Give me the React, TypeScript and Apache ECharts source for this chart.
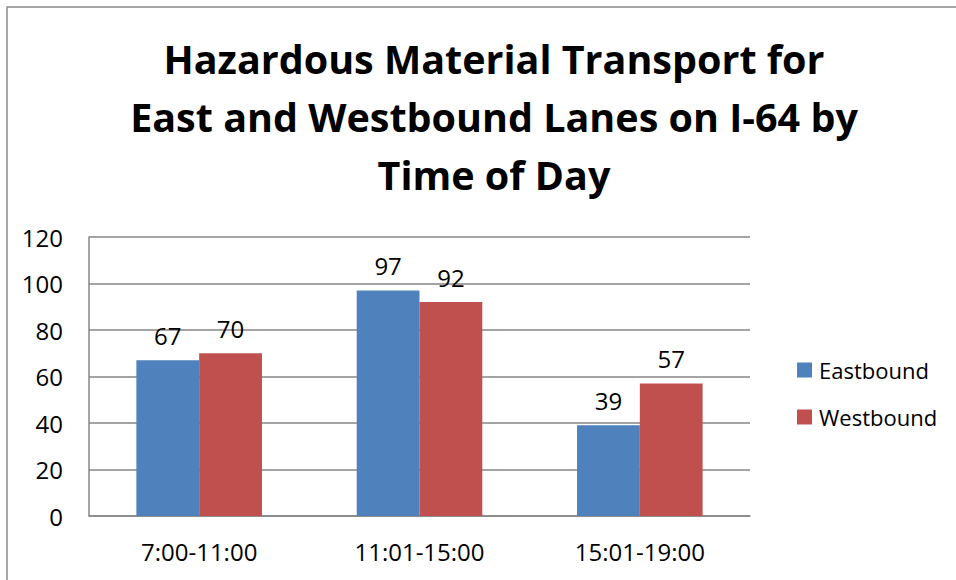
import React, { useEffect, useRef } from "react";
import * as echarts from "echarts";

const titleLines = [
  "Hazardous Material Transport for",
  "East and Westbound Lanes on I-64 by",
  "Time of Day",
];
const categories = ["7:00-11:00", "11:01-15:00", "15:01-19:00"];
const eastbound = [67, 97, 39];
const westbound = [70, 92, 57];
const seriesNames = ["Eastbound", "Westbound"];

const FONT = "'Open Sans', sans-serif";

export default function App() {
  const ref = useRef<HTMLDivElement>(null);
  useEffect(() => {
    if (!ref.current) return;
    const chart = echarts.init(ref.current, null, { renderer: "svg" });
    const labelStyle = {
      show: true,
      position: "top" as const,
      distance: 13,
      color: "#000",
      fontFamily: FONT,
      fontSize: 24,
    };
    chart.setOption({
      animation: false,
      backgroundColor: "#fff",
      title: {
        text: titleLines.join("\n"),
        left: 489,
        top: 25,
        textAlign: "center",
        textStyle: {
          fontFamily: FONT,
          fontWeight: "bold",
          fontSize: 39.5,
          lineHeight: 58,
          color: "#000",
        },
      },
      graphic: [
        {
          type: "rect",
          shape: { x: 7, y: 7, width: 1000, height: 700 },
          style: { fill: "none", stroke: "#8a8a8a", lineWidth: 1.5 },
          silent: true,
        },
      ],
      legend: {
        orient: "vertical",
        left: 792,
        top: 354,
        itemWidth: 15,
        itemHeight: 15,
        itemGap: 25,
        icon: "rect",
        data: seriesNames,
        textStyle: {
          fontFamily: FONT,
          fontSize: 22,
          color: "#000",
          padding: [0, 0, 0, 2],
        },
      },
      grid: { left: 89, top: 237, right: 206, bottom: 64, containLabel: false },
      xAxis: {
        type: "category",
        data: categories,
        axisLine: { show: true, lineStyle: { color: "#868686", width: 1.5 } },
        axisTick: { show: false },
        axisLabel: {
          color: "#000",
          fontFamily: FONT,
          fontSize: 24,
          margin: 23,
        },
      },
      yAxis: {
        type: "value",
        min: 0,
        max: 120,
        interval: 20,
        axisLine: { show: true, lineStyle: { color: "#868686", width: 1.5 } },
        axisTick: { show: false },
        splitLine: { show: true, lineStyle: { color: "#868686", width: 1.5 } },
        axisLabel: {
          color: "#000",
          fontFamily: FONT,
          fontSize: 24,
          margin: 26,
        },
      },
      series: [
        {
          name: seriesNames[0],
          type: "bar",
          data: eastbound,
          barGap: "0%",
          barCategoryGap: "43%",
          itemStyle: { color: "#4F81BD" },
          label: labelStyle,
        },
        {
          name: seriesNames[1],
          type: "bar",
          data: westbound,
          barGap: "0%",
          barCategoryGap: "43%",
          itemStyle: { color: "#C0504D" },
          label: labelStyle,
        },
      ],
    });
    return () => chart.dispose();
  }, []);
  return (
    <div
      ref={ref}
      style={{ position: "fixed", left: 0, top: 0, width: 956, height: 580 }}
    />
  );
}
